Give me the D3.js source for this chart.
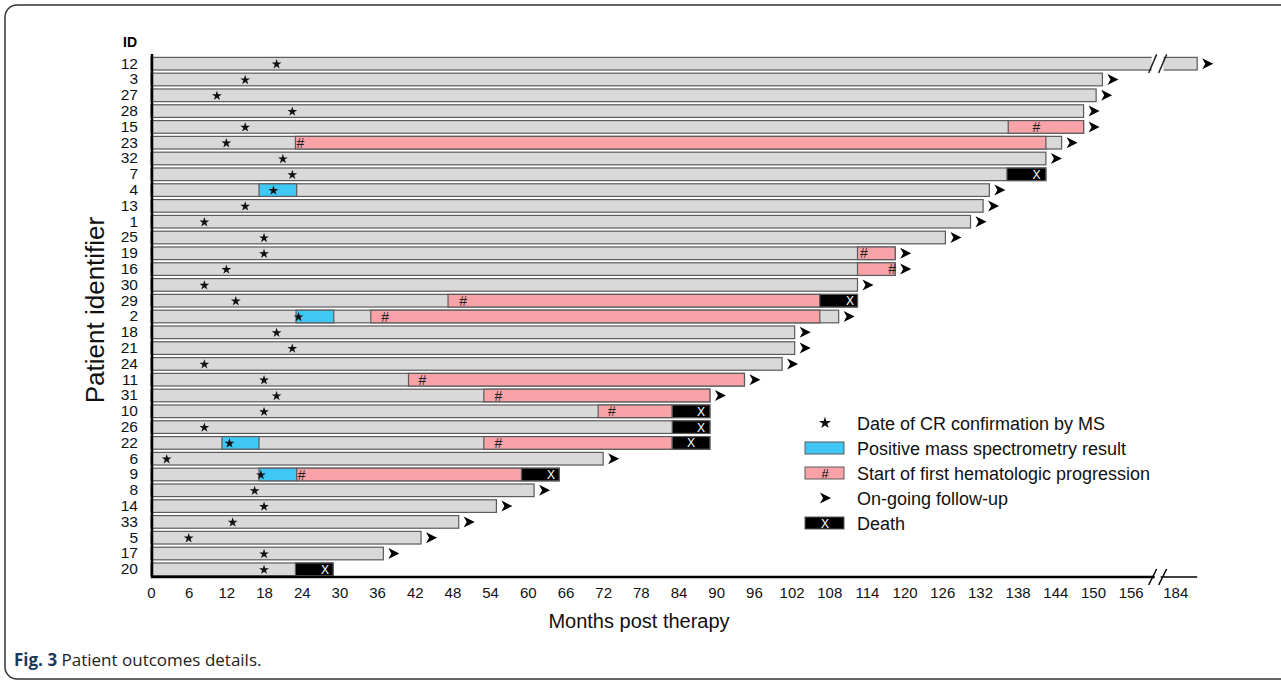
<!DOCTYPE html>
<html>
<head>
<meta charset="utf-8">
<script src="https://cdn.jsdelivr.net/npm/d3@7"></script>
<style>
  body { margin: 0; background: #fff; }
  svg { display: block; font-family: Arial, "Liberation Sans", sans-serif; }
</style>
</head>
<body>
<div id="chart"></div>
<script>
// patient order, top to bottom
const ids = [12, 3, 27, 28, 15, 23, 32, 7, 4, 13, 1, 25, 19, 16, 30, 29, 2, 18, 21, 24, 11, 31, 10, 26, 22, 6, 9, 8, 14, 33, 5, 17, 20];
// last follow-up (months)
const followUp = [187.5, 151.5, 150.5, 148.5, 148.5, 145, 142.5, 142.5, 133.5, 132.5, 130.5, 126.5, 118.5, 118.5, 112.5, 112.5, 109.5, 102.5, 102.5, 100.5, 94.5, 89, 89, 89, 89, 72, 65, 61, 55, 49, 43, 37, 29];
// date of CR confirmation by MS (months)
const crDate = [20, 15, 10.5, 22.5, 15, 12, 21, 22.5, 19.5, 15, 8.5, 18, 18, 12, 8.5, 13.5, 23.5, 20, 22.5, 8.5, 18, 20, 18, 8.5, 12.5, 2.5, 17.5, 16.5, 18, 13, 6, 18, 18];
// patients still followed (arrow)
const ongoing = [12, 3, 27, 28, 15, 23, 32, 4, 13, 1, 25, 19, 16, 30, 2, 18, 21, 24, 11, 31, 6, 8, 14, 33, 5, 17];

// [id, start, end]
const msPositive = [[4, 17.2, 23.2], [2, 23.1, 29.1], [22, 11.3, 17.2], [9, 17.2, 23.2]];
// [id, start, end, '#' at]
const progression = [
  [15, 136.5, 148.5, 141], [23, 23, 142.5, 23.8], [19, 112.5, 118.5, 113.5], [16, 112.5, 118.5, 118],
  [29, 47.3, 106.5, 49.7], [2, 35, 106.5, 37.3], [11, 41, 94.5, 43.2], [31, 53, 89, 55.3],
  [10, 71.2, 83, 73.4], [22, 53, 83, 55.3], [9, 23.2, 59, 24]
];
// [id, start, end, 'X' at]
const deaths = [[7, 136.3, 142.5, 141], [29, 106.5, 112.5, 111.3], [10, 83, 89, 87.6], [26, 83, 89, 87.6], [22, 83, 89, 86], [9, 59, 65, 63.7], [20, 23, 29, 27.7]];

const tickVals = [0, 6, 12, 18, 24, 30, 36, 42, 48, 54, 60, 66, 72, 78, 84, 90, 96, 102, 108, 114, 120, 126, 132, 138, 144, 150, 156, 184];
const breakFrom = 159.5, breakTo = 182, axisEnd = 187.5;

const legendItems = [
  { key: 'cr', label: 'Date of CR confirmation by MS' },
  { key: 'ms', label: 'Positive mass spectrometry result' },
  { key: 'prog', label: 'Start of first hematologic progression' },
  { key: 'fu', label: 'On-going follow-up' },
  { key: 'death', label: 'Death' }
];

const W = 1281, H = 684;
const GRAY = '#d9d9d9', PINK = '#f9a3a9', BLUE = '#3fc8f4', EDGE = '#5a5a5a';

const svg = d3.select('#chart').append('svg').attr('width', W).attr('height', H);

// frame
svg.append('rect').attr('x', 5).attr('y', 5).attr('width', W + 20).attr('height', H - 10)
  .attr('rx', 12).attr('fill', 'none').attr('stroke', '#333').attr('stroke-width', 1.5);

// broken x scale
const k = 6.28, x0 = 151, gap = 10;
const x = d3.scaleLinear()
  .domain([0, breakFrom, breakTo, axisEnd])
  .range([x0, x0 + k * breakFrom, x0 + k * breakFrom + gap, x0 + k * breakFrom + gap + k * (axisEnd - breakTo)]);

const y = d3.scaleBand().domain(ids).range([55.8, 577.2]).paddingInner(0.2).paddingOuter(0.1);
const bh = y.bandwidth();
const yc = id => y(id) + bh / 2;

const g = svg.append('g');

function seg(id, a, b, fill) {
  g.append('rect').attr('x', x(a)).attr('y', y(id)).attr('width', x(b) - x(a)).attr('height', bh)
    .attr('fill', fill).attr('stroke', EDGE).attr('stroke-width', 1.2);
}

// base bars (with break for long ones)
ids.forEach((id, i) => {
  const end = followUp[i];
  if (end > breakTo) {
    seg(id, 0, breakFrom, GRAY);
    seg(id, breakTo, end, GRAY);
    g.append('rect').attr('x', x(breakFrom) - 1).attr('y', y(id) - 2).attr('width', x(breakTo) - x(breakFrom) + 2)
      .attr('height', bh + 4).attr('fill', '#fff');
    [breakFrom, breakTo].forEach(v => {
      g.append('line').attr('x1', x(v) - 4).attr('x2', x(v) + 4).attr('y1', y(id) + bh + 3).attr('y2', y(id) - 3)
        .attr('stroke', '#222').attr('stroke-width', 1.5);
    });
  } else {
    seg(id, 0, end, GRAY);
  }
});

msPositive.forEach(([id, a, b]) => seg(id, a, b, BLUE));
progression.forEach(([id, a, b]) => seg(id, a, b, PINK));
deaths.forEach(([id, a, b]) => seg(id, a, b, '#000'));

// markers
g.selectAll('text.hash').data(progression).join('text').attr('class', 'hash')
  .attr('x', d => x(d[3])).attr('y', d => yc(d[0]) + 5).attr('text-anchor', 'middle')
  .attr('font-size', 14).attr('fill', '#222').text('#');

g.selectAll('text.death').data(deaths).join('text').attr('class', 'death')
  .attr('x', d => x(d[3])).attr('y', d => yc(d[0]) + 4.5).attr('text-anchor', 'middle')
  .attr('font-size', 12).attr('fill', '#fff').text('X');

const star = d3.symbol().type(d3.symbolStar).size(30);
g.selectAll('path.cr').data(ids).join('path').attr('class', 'cr')
  .attr('d', star).attr('fill', '#111')
  .attr('transform', (d, i) => `translate(${x(crDate[i])},${yc(d) + 0.5})`);

const arrowPath = 'M0,-5.5 L11,0 L0,5.5 L3,0 Z';
g.selectAll('path.fu').data(ongoing).join('path').attr('class', 'fu')
  .attr('d', arrowPath).attr('fill', '#000')
  .attr('transform', id => `translate(${x(followUp[ids.indexOf(id)]) + 5},${yc(id)})`);

// axes
const axY = svg.append('g').attr('transform', `translate(${x0 + 1},0)`)
  .call(d3.axisLeft(y).tickSize(0).tickPadding(14));
axY.select('.domain').remove();
axY.selectAll('text').attr('font-size', 15.5).attr('font-family', 'Arial, "Liberation Sans", sans-serif').attr('fill', '#111');

const axX = svg.append('g').attr('transform', 'translate(0,577)')
  .call(d3.axisBottom(x).tickValues(tickVals).tickSize(0).tickPadding(10));
axX.select('.domain').remove();
axX.selectAll('text').attr('font-size', 15).attr('font-family', 'Arial, "Liberation Sans", sans-serif').attr('fill', '#111');

svg.append('line').attr('x1', x0 + 1).attr('x2', x0 + 1).attr('y1', 54).attr('y2', 578)
  .attr('stroke', '#000').attr('stroke-width', 2.5);
svg.append('line').attr('x1', x0).attr('x2', x(breakFrom) + 2).attr('y1', 577).attr('y2', 577)
  .attr('stroke', '#000').attr('stroke-width', 2.5);
svg.append('line').attr('x1', x(breakTo) - 2).attr('x2', x(axisEnd)).attr('y1', 577).attr('y2', 577)
  .attr('stroke', '#000').attr('stroke-width', 1.6);
[breakFrom, breakTo].forEach(v => {
  svg.append('line').attr('x1', x(v) - 4).attr('x2', x(v) + 4).attr('y1', 585).attr('y2', 569)
    .attr('stroke', '#000').attr('stroke-width', 1.5);
});

svg.append('text').attr('x', 130).attr('y', 47).attr('text-anchor', 'middle')
  .attr('font-size', 14).attr('font-weight', 'bold').text('ID');

svg.append('text').attr('transform', 'translate(104,310) rotate(-90)').attr('text-anchor', 'middle')
  .attr('font-size', 26).attr('fill', '#111').text('Patient identifier');

svg.append('text').attr('x', 639).attr('y', 628).attr('text-anchor', 'middle')
  .attr('font-size', 20).attr('fill', '#111').text('Months post therapy');

// legend
const lg = svg.append('g').attr('transform', 'translate(805,423)');
legendItems.forEach((d, i) => {
  const row = lg.append('g').attr('transform', `translate(0,${i * 25})`);
  if (d.key === 'cr') {
    row.append('path').attr('d', d3.symbol().type(d3.symbolStar).size(45)).attr('fill', '#111')
      .attr('transform', 'translate(20,0)');
  } else if (d.key === 'fu') {
    row.append('path').attr('d', arrowPath).attr('fill', '#000').attr('transform', 'translate(15,0)');
  } else {
    const fill = d.key === 'ms' ? BLUE : d.key === 'prog' ? PINK : '#000';
    row.append('rect').attr('x', 0).attr('y', -6).attr('width', 39).attr('height', 12)
      .attr('fill', fill).attr('stroke', EDGE).attr('stroke-width', 1);
    if (d.key === 'prog') row.append('text').attr('x', 20).attr('y', 5).attr('text-anchor', 'middle').attr('font-size', 13).text('#');
    if (d.key === 'death') row.append('text').attr('x', 20).attr('y', 5).attr('text-anchor', 'middle').attr('font-size', 12).attr('fill', '#fff').text('X');
  }
  row.append('text').attr('x', 52).attr('y', 6.5).attr('font-size', 18).attr('fill', '#111').text(d.label);
});

// caption
const cap = svg.append('text').attr('x', 14).attr('y', 666).attr('font-size', 17)
  .attr('font-family', '"Open Sans", Arial, sans-serif').attr('fill', '#222');
cap.append('tspan').attr('font-weight', 'bold').attr('fill', '#1a3a5c').text('Fig. 3');
cap.append('tspan').text(' Patient outcomes details.');
</script>
</body>
</html>
